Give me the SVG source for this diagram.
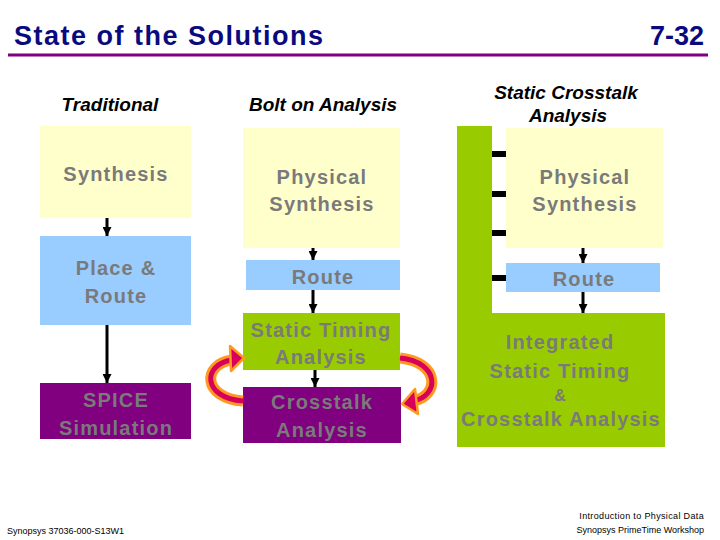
<svg xmlns="http://www.w3.org/2000/svg" width="720" height="540" viewBox="0 0 720 540">
<defs>
<style>
.title{font-family:"Liberation Sans",Arial,sans-serif;font-weight:bold;font-size:27px;fill:#0a0a80;letter-spacing:1.5px}
.hdr{font-family:"Liberation Sans",Arial,sans-serif;font-weight:bold;font-style:italic;font-size:19px;fill:#000;text-anchor:middle}
.lbl{font-family:"Liberation Sans",Arial,sans-serif;font-weight:bold;font-size:20px;fill:#7a7a7a;text-anchor:middle;letter-spacing:1.2px}
.amp{font-family:"Liberation Sans",Arial,sans-serif;font-weight:bold;font-size:16px;fill:#7a7a7a;text-anchor:middle}
.foot{font-family:"Liberation Sans",Arial,sans-serif;font-size:9px;fill:#000}
.yel{fill:#FFFFCC}
.blu{fill:#99CCFF}
.pur{fill:#800080}
.grn{fill:#99CC00}
.arr{stroke:#000;stroke-width:3;fill:none;marker-end:url(#ah)}
.tick{stroke:#000;stroke-width:6}
.loopO{fill:none;stroke:#FF9922;stroke-width:11}
.loopI{fill:none;stroke:#D8005A;stroke-width:5}
.head{fill:#D8005A;stroke:#FF9922;stroke-width:2.5;stroke-linejoin:round}
</style>
<marker id="ah" viewBox="0 0 10 10" refX="10" refY="5" markerWidth="9" markerHeight="9" markerUnits="userSpaceOnUse" orient="auto">
<path d="M0,0 L10,5 L0,10 z" fill="#000"/>
</marker>
</defs>

<rect width="720" height="540" fill="#fff"/>

<g id="header">
<text class="title" x="14" y="45">State of the Solutions</text>
<text class="title" x="704" y="45" text-anchor="end" style="letter-spacing:0">7-32</text>
<line x1="8" y1="55" x2="708" y2="55" stroke="#800080" stroke-width="3"/>
</g>

<g id="col-headers">
<text class="hdr" x="110" y="111">Traditional</text>
<text class="hdr" x="323" y="111">Bolt on Analysis</text>
<text class="hdr" x="566" y="99">Static Crosstalk</text>
<text class="hdr" x="568" y="122">Analysis</text>
</g>

<!-- Column 1 -->
<g id="t-synthesis">
<rect class="yel" x="40" y="126" width="151" height="92"/>
<text class="lbl" x="116" y="181">Synthesis</text>
</g>
<g id="t-place-route">
<rect class="blu" x="40" y="236" width="151" height="89"/>
<text class="lbl" x="116" y="275">Place &amp;</text>
<text class="lbl" x="116" y="303">Route</text>
</g>
<g id="t-spice">
<rect class="pur" x="40" y="383" width="151" height="56"/>
<text class="lbl" x="116" y="407">SPICE</text>
<text class="lbl" x="116" y="435">Simulation</text>
</g>

<!-- Column 2 -->
<g id="b-phys-synth">
<rect class="yel" x="243" y="128" width="157" height="120"/>
<text class="lbl" x="322" y="184">Physical</text>
<text class="lbl" x="322" y="211">Synthesis</text>
</g>
<g id="b-route">
<rect class="blu" x="246" y="260" width="154" height="30"/>
<text class="lbl" x="323" y="284">Route</text>
</g>
<g id="b-sta">
<rect class="grn" x="243" y="313" width="157" height="57"/>
<text class="lbl" x="321" y="337">Static Timing</text>
<text class="lbl" x="321" y="364">Analysis</text>
</g>
<g id="b-crosstalk">
<rect class="pur" x="243" y="387" width="158" height="56"/>
<text class="lbl" x="322" y="409">Crosstalk</text>
<text class="lbl" x="322" y="437">Analysis</text>
</g>

<!-- Column 3 -->
<g id="s-integrated">
<path class="grn" d="M457,126 H492 V313 H665 V447 H457 Z"/>
<text class="lbl" x="560" y="349">Integrated</text>
<text class="lbl" x="560" y="378">Static Timing</text>
<text class="amp" x="560" y="401">&amp;</text>
<text class="lbl" x="561" y="426">Crosstalk Analysis</text>
</g>
<g id="s-phys-synth">
<rect class="yel" x="506" y="128" width="157" height="120"/>
<text class="lbl" x="585" y="184">Physical</text>
<text class="lbl" x="585" y="211">Synthesis</text>
</g>
<g id="s-route">
<rect class="blu" x="506" y="263" width="154" height="29"/>
<text class="lbl" x="584" y="286">Route</text>
</g>

<g id="connectors">
<line class="arr" x1="107" y1="218" x2="107" y2="236"/>
<line class="arr" x1="107" y1="325" x2="107" y2="383"/>
<line class="arr" x1="313" y1="248" x2="313" y2="260"/>
<line class="arr" x1="313" y1="290" x2="313" y2="313"/>
<line class="arr" x1="315" y1="370" x2="315" y2="387"/>
<line class="arr" x1="583" y1="248" x2="583" y2="263"/>
<line class="arr" x1="583" y1="292" x2="583" y2="313"/>
<line class="tick" x1="492" y1="154" x2="506" y2="154"/>
<line class="tick" x1="492" y1="194" x2="506" y2="194"/>
<line class="tick" x1="492" y1="233" x2="506" y2="233"/>
<line class="tick" x1="492" y1="278" x2="506" y2="278"/>
<!-- feedback loop arrows -->
<path class="loopO" d="M243,401 C202,398 202,364 232,360"/>
<path class="loopI" d="M243,401 C202,398 202,364 232,360"/>
<polygon class="head" points="244,358 230,346 231,371"/>
<path class="loopO" d="M400,358 C440,362 440,396 413,401"/>
<path class="loopI" d="M400,358 C440,362 440,396 413,401"/>
<polygon class="head" points="402,404 415,389 418,414"/>
</g>

<g id="footer">
<text class="foot" x="7" y="534">Synopsys 37036-000-S13W1</text>
<text class="foot" x="704" y="519" text-anchor="end" style="letter-spacing:0.35px">Introduction to Physical Data</text>
<text class="foot" x="704" y="533" text-anchor="end">Synopsys PrimeTime Workshop</text>
</g>
</svg>
